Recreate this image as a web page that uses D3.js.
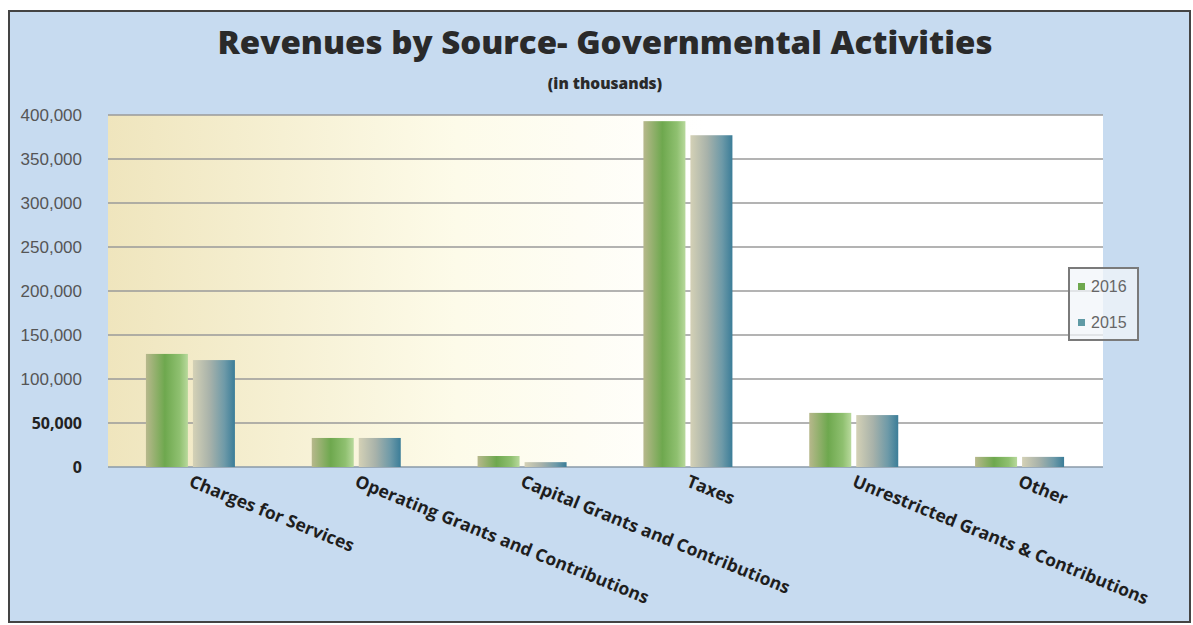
<!DOCTYPE html>
<html><head><meta charset="utf-8">
<script src="https://cdn.jsdelivr.net/npm/d3@7/dist/d3.min.js"></script>
<style>body{margin:0;background:#fff;}svg{display:block;}</style>
</head><body><svg id="c" width="1193" height="625"></svg>
<script>
const categories = ["Charges for Services","Operating Grants and Contributions","Capital Grants and Contributions","Taxes","Unrestricted Grants & Contributions","Other"];
const seriesNames = ["2016","2015"];
const values2016 = [128500, 33000, 12500, 393000, 61500, 11500];
const values2015 = [121500, 33000, 5500, 377000, 59000, 11500];
const yTicks = [0,50000,100000,150000,200000,250000,300000,350000,400000];

(function(){
const svg = d3.select("#c");
const defs = svg.append("defs");
const bgG = defs.append("linearGradient").attr("id","plotbg").attr("x1","0").attr("x2","1").attr("y1","0").attr("y2","0");
bgG.append("stop").attr("offset","0").attr("stop-color","#efe5bd");
bgG.append("stop").attr("offset","0.35").attr("stop-color","#fdfbe9");
bgG.append("stop").attr("offset","0.6").attr("stop-color","#ffffff");
bgG.append("stop").attr("offset","1").attr("stop-color","#ffffff");
const gG = defs.append("linearGradient").attr("id","g16").attr("x1","0").attr("x2","1");
gG.append("stop").attr("offset","0").attr("stop-color","#b7b88c");
gG.append("stop").attr("offset","0.45").attr("stop-color","#6ea84e");
gG.append("stop").attr("offset","0.8").attr("stop-color","#8fc070");
gG.append("stop").attr("offset","1").attr("stop-color","#b8d99c");
const bG = defs.append("linearGradient").attr("id","g15").attr("x1","0").attr("x2","1");
bG.append("stop").attr("offset","0").attr("stop-color","#d4d1b6");
bG.append("stop").attr("offset","0.4").attr("stop-color","#a8b2aa");
bG.append("stop").attr("offset","0.75").attr("stop-color","#6e9aa8");
bG.append("stop").attr("offset","1").attr("stop-color","#3b7d98");

// outer frame
svg.append("rect").attr("x",9).attr("y",11).attr("width",1181).attr("height",611)
  .attr("fill","#c7dbf0").attr("stroke","#444").attr("stroke-width",2);

const pL=108,pR=1103,pT=115,pB=467;
const x = d3.scaleBand().domain(categories).range([pL,pR]);
const y = d3.scaleLinear().domain([0,400000]).range([pB,pT]);

svg.append("rect").attr("x",pL).attr("y",pT).attr("width",pR-pL).attr("height",pB-pT).attr("fill","url(#plotbg)");

// gridlines
svg.append("g").selectAll("line").data(yTicks.slice(1)).join("line")
  .attr("x1",pL).attr("x2",pR).attr("y1",d=>y(d)).attr("y2",d=>y(d))
  .attr("stroke","#9a9a9a").attr("stroke-width",1.3);
svg.append("line").attr("x1",pL).attr("x2",pR).attr("y1",pB).attr("y2",pB).attr("stroke","#8a9aa8").attr("stroke-width",1.5);

// y axis
const yAxis = d3.axisLeft(y).tickValues(yTicks).tickFormat(d3.format(",")).tickSize(0).tickPadding(0);
const ya = svg.append("g").attr("transform",`translate(82,0)`).call(yAxis);
ya.select(".domain").remove();
ya.selectAll("text").attr("font-family","Liberation Sans, Arial").attr("font-size",17).attr("fill","#555");
ya.selectAll("text").filter(d=>d<=50000).attr("font-family","Open Sans").attr("font-weight","bold").attr("fill","#222").attr("font-size",16);

// bars
const bw = 42;
const series = [{name:"2016",vals:values2016,fill:"url(#g16)",off:-45},{name:"2015",vals:values2015,fill:"url(#g15)",off:2}];
series.forEach(s=>{
  svg.append("g").selectAll("rect").data(categories).join("rect")
    .attr("x",(d)=>x(d)+x.bandwidth()/2+s.off).attr("width",bw)
    .attr("y",(d,i)=>y(s.vals[i])).attr("height",(d,i)=>pB-y(s.vals[i]))
    .attr("fill",s.fill);
});

// x labels
svg.append("g").selectAll("text").data(categories).join("text")
  .attr("transform",d=>`translate(${x(d)+x.bandwidth()/2-3},486) rotate(22)`)
  .attr("font-family","Open Sans").attr("font-weight","bold").attr("font-size",17.5)
  .attr("fill","#1e1e1e").text(d=>d);

// title
svg.append("text").attr("x",605).attr("y",54).attr("text-anchor","middle")
  .attr("font-family","Open Sans").attr("font-weight","800").attr("font-size",32)
  .attr("fill","#2a2a2a").attr("textLength",775).attr("lengthAdjust","spacingAndGlyphs")
  .text("Revenues by Source- Governmental Activities");
svg.append("text").attr("x",605).attr("y",89).attr("text-anchor","middle")
  .attr("font-family","Open Sans").attr("font-weight","800").attr("font-size",15.5)
  .attr("fill","#2a2a2a").text("(in thousands)");

// legend
const lg = svg.append("g");
lg.append("rect").attr("x",1069).attr("y",268).attr("width",69).attr("height",72)
  .attr("fill","#f2f6fa").attr("fill-opacity",0.75).attr("stroke","#7a7a7a").attr("stroke-width",2);
const lcol = ["#6ea84e","#5f9aa5"];
seriesNames.forEach((n,i)=>{
  lg.append("rect").attr("x",1078).attr("y",283+i*36).attr("width",7).attr("height",7).attr("fill",lcol[i]);
  lg.append("text").attr("x",1091).attr("y",292+i*36).attr("font-family","Liberation Sans, Arial")
    .attr("font-size",16).attr("fill","#666").text(n);
});
})();
</script></body></html>
